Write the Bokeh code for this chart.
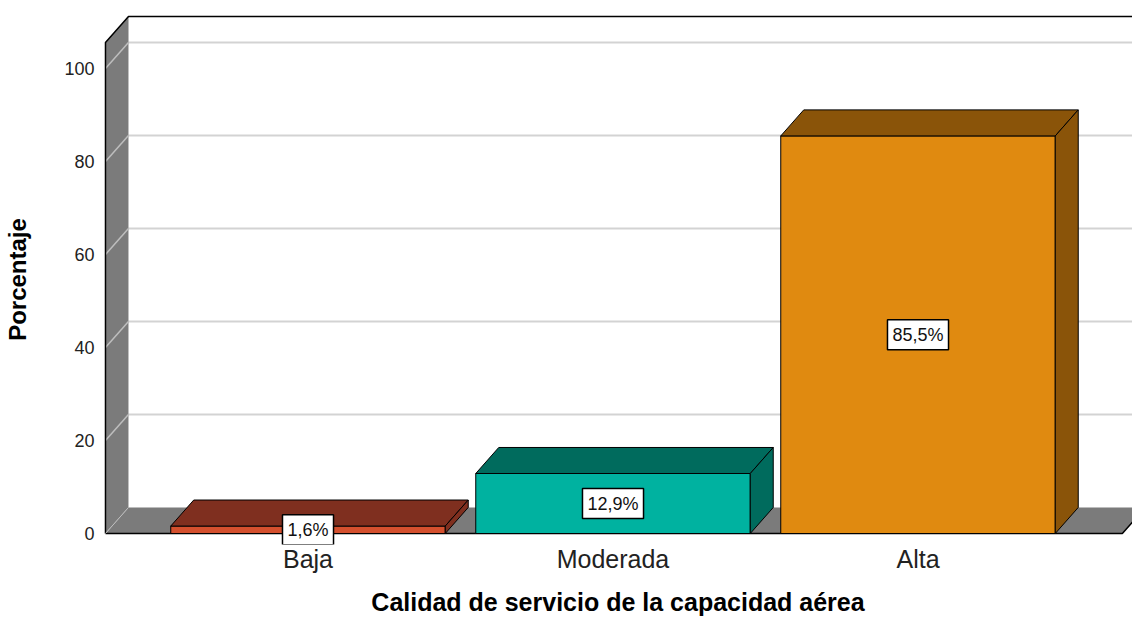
from bokeh.plotting import figure
from bokeh.models import ColumnDataSource, Range1d, FixedTicker
from bokeh.embed import file_html
from bokeh.resources import INLINE
from bokeh.core.properties import value

# ---- data ----
categories = ["Baja", "Moderada", "Alta"]
percentages = [1.6, 12.9, 85.5]
value_labels = ["1,6%", "12,9%", "85,5%"]
y_ticks = [0, 20, 40, 60, 80, 100]
front_colors = ["#D4502E", "#00B2A0", "#E08A10"]
shade_colors = ["#7F2F1F", "#006B5D", "#8A5409"]

# ---- layout constants (3D look) ----
W, H = 1132, 621
B_LEFT, B_RIGHT, B_TOP, B_BOTTOM = 103, 0, 14, 77
DX = 0.0754      # depth offset, category units
DY = 5.6         # depth offset, value units
HALF = 0.45      # half bar width
WALL_TOP = 105.6
WALL_LEFT = -0.664
WALL_RIGHT = len(categories) - 1 + 0.67
PX_X = 305.0     # pixels per category unit
PX_Y = 4.65      # pixels per percent
FRAME_W = W - B_LEFT - B_RIGHT
FRAME_H = H - B_TOP - B_BOTTOM
X_START = -0.6705
X_END = X_START + FRAME_W / PX_X
Y_START = -11 / PX_Y
Y_END = Y_START + FRAME_H / PX_Y
GRAY = "#7B7B7B"
FONT = "Liberation Sans"

p = figure(width=W, height=H,
           x_range=Range1d(X_START, X_END), y_range=Range1d(Y_START, Y_END),
           output_backend="svg", toolbar_location=None,
           min_border_left=B_LEFT, min_border_right=B_RIGHT, min_border_top=B_TOP,
           min_border_bottom=B_BOTTOM)
p.xgrid.visible = False
p.ygrid.visible = False
p.outline_line_color = None
p.background_fill_color = "white"

grid_vals = [t for t in y_ticks if t > 0]

# back-wall gridlines
p.segment(x0=[WALL_LEFT + DX] * len(grid_vals), y0=[t + DY for t in grid_vals],
          x1=[X_END + 1] * len(grid_vals), y1=[t + DY for t in grid_vals],
          line_color="#D3D3D3", line_width=2)

# left wall
p.patch([WALL_LEFT, WALL_LEFT, WALL_LEFT + DX, WALL_LEFT + DX],
        [0, WALL_TOP, WALL_TOP + DY, DY], fill_color=GRAY, line_color=None)
p.segment(x0=[WALL_LEFT] * len(grid_vals), y0=grid_vals,
          x1=[WALL_LEFT + DX] * len(grid_vals), y1=[t + DY for t in grid_vals],
          line_color="#BEBEBE", line_width=1.5)
p.line([WALL_LEFT, WALL_LEFT, WALL_LEFT + DX, X_END + 1],
       [0, WALL_TOP, WALL_TOP + DY, WALL_TOP + DY], line_color="black", line_width=1.5)

# floor
p.patch([WALL_LEFT, WALL_RIGHT, WALL_RIGHT + DX, WALL_LEFT + DX],
        [0, 0, DY, DY], fill_color=GRAY, line_color=None)
p.line([WALL_LEFT, WALL_RIGHT, WALL_RIGHT + DX], [0, 0, DY],
       line_color="black", line_width=1.5)
p.line([WALL_LEFT, WALL_LEFT + DX], [0, DY], line_color="#BEBEBE", line_width=1)

# bars
idx = list(range(len(categories)))
front = ColumnDataSource(dict(left=[i - HALF for i in idx], right=[i + HALF for i in idx],
                              top=percentages, bottom=[0] * len(idx), color=front_colors))
p.quad(left="left", right="right", top="top", bottom="bottom", source=front,
       fill_color="color", line_color="black", line_width=1)
top_xs = [[i - HALF, i + HALF, i + HALF + DX, i - HALF + DX] for i in idx]
top_ys = [[v, v, v + DY, v + DY] for v in percentages]
side_xs = [[i + HALF, i + HALF, i + HALF + DX, i + HALF + DX] for i in idx]
side_ys = [[0, v, v + DY, DY] for v in percentages]
p.patches(xs=top_xs + side_xs, ys=top_ys + side_ys,
          fill_color=shade_colors + shade_colors, line_color="black", line_width=1)

# value labels
lab = ColumnDataSource(dict(x=idx, y=[v / 2 for v in percentages], text=value_labels))
p.text(x="x", y="y", text="text", source=lab, text_align="center", text_baseline="middle",
       text_font=value(FONT), text_font_size="18px", text_color="#111111",
       background_fill_color="white", border_line_color="black", border_line_width=1.5,
       padding=5)

# axes
p.xaxis.ticker = FixedTicker(ticks=idx)
p.xaxis.major_label_overrides = {i: c for i, c in zip(idx, categories)}
p.xaxis.axis_line_color = None
p.xaxis.major_tick_line_color = None
p.xaxis.minor_tick_line_color = None
p.xaxis.major_tick_out = 0
p.xaxis.major_tick_in = 0
p.xaxis.minor_tick_out = 0
p.xaxis.major_label_standoff = 0
p.xaxis.major_label_text_font = FONT
p.xaxis.major_label_text_font_size = "25px"
p.xaxis.major_label_text_color = "#222222"
p.xaxis.axis_label = "Calidad de servicio de la capacidad aérea"
p.xaxis.axis_label_text_font = FONT
p.xaxis.axis_label_text_font_size = "25px"
p.xaxis.axis_label_text_font_style = "bold"
p.xaxis.axis_label_text_color = "black"
p.xaxis.axis_label_standoff = 12

p.yaxis.ticker = FixedTicker(ticks=y_ticks)
p.yaxis.axis_line_color = None
p.yaxis.major_tick_line_color = None
p.yaxis.minor_tick_line_color = None
p.yaxis.major_tick_out = 0
p.yaxis.major_tick_in = 0
p.yaxis.minor_tick_out = 0
p.yaxis.major_label_standoff = 9
p.yaxis.major_label_text_font = FONT
p.yaxis.major_label_text_font_size = "18px"
p.yaxis.major_label_text_color = "#222222"
p.yaxis.axis_label = "Porcentaje"
p.yaxis.axis_label_text_font = FONT
p.yaxis.axis_label_text_font_size = "24px"
p.yaxis.axis_label_text_font_style = "bold"
p.yaxis.axis_label_text_color = "black"
p.yaxis.axis_label_standoff = 30

open("out.html", "w").write(file_html(p, INLINE))
